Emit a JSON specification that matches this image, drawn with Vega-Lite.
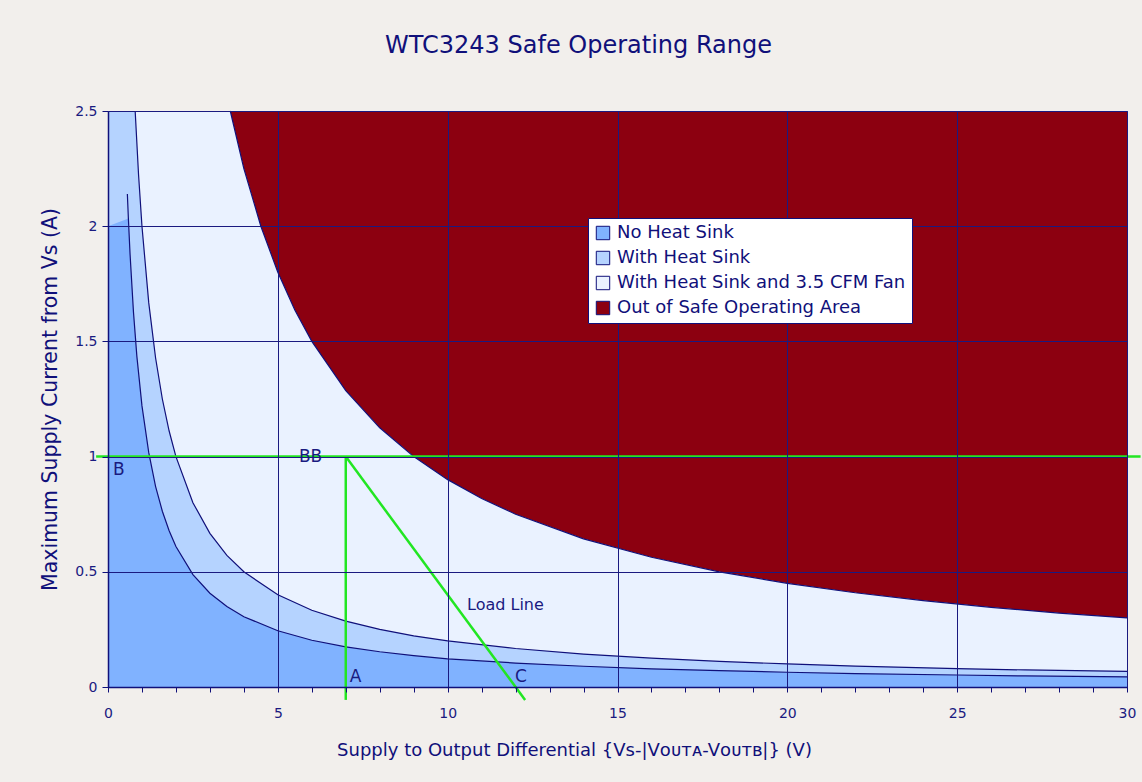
{
  "$schema": "https://vega.github.io/schema/vega-lite/v6.json",
  "width": 1019,
  "height": 576,
  "autosize": {"type": "none"},
  "padding": {"left": 108, "top": 111, "right": 15, "bottom": 95},
  "background": "#F2EFEC",
  "title": {"text": "WTC3243 Safe Operating Range", "fontSize": 24, "font": "DejaVu Sans", "fontWeight": "normal", "color": "#10107A", "anchor": "middle", "frame": "group", "dx": -39, "offset": 46},
  "config": {
    "view": {"stroke": "#1a1a80", "strokeWidth": 1},
    "font": "DejaVu Sans",
    "axis": {"labelFont": "DejaVu Sans", "titleFont": "DejaVu Sans", "labelColor": "#1a1a80", "titleColor": "#10107A", "domainColor": "#10107A", "domainWidth": 1.5, "tickColor": "#10107A", "gridColor": "#1a1a80", "gridWidth": 1, "labelFontSize": 14, "titleFontSize": 18, "titleFontWeight": "normal"}
  },
  "datasets": {
    "curves": [
      {"s": "No Heat Sink", "part": "area", "x": 0, "y": 2.0},
      {"s": "No Heat Sink", "part": "line", "x": 0.57, "y": 2.14},
      {"s": "No Heat Sink", "part": "both", "x": 0.6, "y": 2.033},
      {"s": "No Heat Sink", "part": "both", "x": 0.65, "y": 1.877},
      {"s": "No Heat Sink", "part": "both", "x": 0.75, "y": 1.627},
      {"s": "No Heat Sink", "part": "both", "x": 0.85, "y": 1.435},
      {"s": "No Heat Sink", "part": "both", "x": 1.0, "y": 1.22},
      {"s": "No Heat Sink", "part": "both", "x": 1.2, "y": 1.017},
      {"s": "No Heat Sink", "part": "both", "x": 1.4, "y": 0.871},
      {"s": "No Heat Sink", "part": "both", "x": 1.6, "y": 0.763},
      {"s": "No Heat Sink", "part": "both", "x": 1.8, "y": 0.678},
      {"s": "No Heat Sink", "part": "both", "x": 2.0, "y": 0.61},
      {"s": "No Heat Sink", "part": "both", "x": 2.5, "y": 0.488},
      {"s": "No Heat Sink", "part": "both", "x": 3.0, "y": 0.407},
      {"s": "No Heat Sink", "part": "both", "x": 3.5, "y": 0.349},
      {"s": "No Heat Sink", "part": "both", "x": 4.0, "y": 0.305},
      {"s": "No Heat Sink", "part": "both", "x": 5.0, "y": 0.244},
      {"s": "No Heat Sink", "part": "both", "x": 6.0, "y": 0.203},
      {"s": "No Heat Sink", "part": "both", "x": 7.0, "y": 0.174},
      {"s": "No Heat Sink", "part": "both", "x": 8.0, "y": 0.153},
      {"s": "No Heat Sink", "part": "both", "x": 9.0, "y": 0.136},
      {"s": "No Heat Sink", "part": "both", "x": 10.0, "y": 0.122},
      {"s": "No Heat Sink", "part": "both", "x": 12.0, "y": 0.104},
      {"s": "No Heat Sink", "part": "both", "x": 14.0, "y": 0.09},
      {"s": "No Heat Sink", "part": "both", "x": 16.0, "y": 0.079},
      {"s": "No Heat Sink", "part": "both", "x": 18.0, "y": 0.071},
      {"s": "No Heat Sink", "part": "both", "x": 20.0, "y": 0.064},
      {"s": "No Heat Sink", "part": "both", "x": 22.0, "y": 0.058},
      {"s": "No Heat Sink", "part": "both", "x": 25.0, "y": 0.052},
      {"s": "No Heat Sink", "part": "both", "x": 27.0, "y": 0.048},
      {"s": "No Heat Sink", "part": "both", "x": 30.0, "y": 0.044},
      {"s": "With Heat Sink", "part": "area", "x": 0, "y": 2.5},
      {"s": "With Heat Sink", "part": "both", "x": 0.8, "y": 2.5},
      {"s": "With Heat Sink", "part": "both", "x": 0.9, "y": 2.222},
      {"s": "With Heat Sink", "part": "both", "x": 1.0, "y": 2.0},
      {"s": "With Heat Sink", "part": "both", "x": 1.2, "y": 1.667},
      {"s": "With Heat Sink", "part": "both", "x": 1.4, "y": 1.429},
      {"s": "With Heat Sink", "part": "both", "x": 1.6, "y": 1.25},
      {"s": "With Heat Sink", "part": "both", "x": 1.8, "y": 1.111},
      {"s": "With Heat Sink", "part": "both", "x": 2.0, "y": 1.0},
      {"s": "With Heat Sink", "part": "both", "x": 2.5, "y": 0.8},
      {"s": "With Heat Sink", "part": "both", "x": 3.0, "y": 0.667},
      {"s": "With Heat Sink", "part": "both", "x": 3.5, "y": 0.571},
      {"s": "With Heat Sink", "part": "both", "x": 4.0, "y": 0.5},
      {"s": "With Heat Sink", "part": "both", "x": 5.0, "y": 0.4},
      {"s": "With Heat Sink", "part": "both", "x": 6.0, "y": 0.333},
      {"s": "With Heat Sink", "part": "both", "x": 7.0, "y": 0.286},
      {"s": "With Heat Sink", "part": "both", "x": 8.0, "y": 0.25},
      {"s": "With Heat Sink", "part": "both", "x": 9.0, "y": 0.222},
      {"s": "With Heat Sink", "part": "both", "x": 10.0, "y": 0.2},
      {"s": "With Heat Sink", "part": "both", "x": 12.0, "y": 0.167},
      {"s": "With Heat Sink", "part": "both", "x": 14.0, "y": 0.143},
      {"s": "With Heat Sink", "part": "both", "x": 16.0, "y": 0.125},
      {"s": "With Heat Sink", "part": "both", "x": 18.0, "y": 0.111},
      {"s": "With Heat Sink", "part": "both", "x": 20.0, "y": 0.1},
      {"s": "With Heat Sink", "part": "both", "x": 22.0, "y": 0.091},
      {"s": "With Heat Sink", "part": "both", "x": 25.0, "y": 0.08},
      {"s": "With Heat Sink", "part": "both", "x": 27.0, "y": 0.074},
      {"s": "With Heat Sink", "part": "both", "x": 30.0, "y": 0.068},
      {"s": "With Heat Sink and 3.5 CFM Fan", "part": "area", "x": 0, "y": 2.5},
      {"s": "With Heat Sink and 3.5 CFM Fan", "part": "both", "x": 3.6, "y": 2.5},
      {"s": "With Heat Sink and 3.5 CFM Fan", "part": "both", "x": 4.0, "y": 2.25},
      {"s": "With Heat Sink and 3.5 CFM Fan", "part": "both", "x": 4.5, "y": 2.0},
      {"s": "With Heat Sink and 3.5 CFM Fan", "part": "both", "x": 5.0, "y": 1.8},
      {"s": "With Heat Sink and 3.5 CFM Fan", "part": "both", "x": 5.5, "y": 1.636},
      {"s": "With Heat Sink and 3.5 CFM Fan", "part": "both", "x": 6.0, "y": 1.5},
      {"s": "With Heat Sink and 3.5 CFM Fan", "part": "both", "x": 7.0, "y": 1.286},
      {"s": "With Heat Sink and 3.5 CFM Fan", "part": "both", "x": 8.0, "y": 1.125},
      {"s": "With Heat Sink and 3.5 CFM Fan", "part": "both", "x": 9.0, "y": 1.0},
      {"s": "With Heat Sink and 3.5 CFM Fan", "part": "both", "x": 10.0, "y": 0.9},
      {"s": "With Heat Sink and 3.5 CFM Fan", "part": "both", "x": 11.0, "y": 0.818},
      {"s": "With Heat Sink and 3.5 CFM Fan", "part": "both", "x": 12.0, "y": 0.75},
      {"s": "With Heat Sink and 3.5 CFM Fan", "part": "both", "x": 14.0, "y": 0.643},
      {"s": "With Heat Sink and 3.5 CFM Fan", "part": "both", "x": 16.0, "y": 0.563},
      {"s": "With Heat Sink and 3.5 CFM Fan", "part": "both", "x": 18.0, "y": 0.5},
      {"s": "With Heat Sink and 3.5 CFM Fan", "part": "both", "x": 20.0, "y": 0.45},
      {"s": "With Heat Sink and 3.5 CFM Fan", "part": "both", "x": 22.0, "y": 0.409},
      {"s": "With Heat Sink and 3.5 CFM Fan", "part": "both", "x": 24.0, "y": 0.375},
      {"s": "With Heat Sink and 3.5 CFM Fan", "part": "both", "x": 26.0, "y": 0.346},
      {"s": "With Heat Sink and 3.5 CFM Fan", "part": "both", "x": 28.0, "y": 0.321},
      {"s": "With Heat Sink and 3.5 CFM Fan", "part": "both", "x": 30.0, "y": 0.3}
    ],
    "load": [
      {"seg": "h", "i": 0, "x": -0.35, "y": 1},
      {"seg": "h", "i": 1, "x": 30.4, "y": 1},
      {"seg": "v", "i": 0, "x": 7, "y": -0.056},
      {"seg": "v", "i": 1, "x": 7, "y": 1},
      {"seg": "d", "i": 0, "x": 7, "y": 1},
      {"seg": "d", "i": 1, "x": 12.28, "y": -0.056}
    ],
    "labels": [
      {"t": "B", "x": 0.15, "y": 0.94, "fs": 17},
      {"t": "BB", "x": 5.62, "y": 1.0, "fs": 17},
      {"t": "A", "x": 7.12, "y": 0.043, "fs": 17},
      {"t": "C", "x": 11.98, "y": 0.043, "fs": 17},
      {"t": "Load Line", "x": 10.57, "y": 0.356, "fs": 16}
    ]
  },
  "encoding": {
    "x": {"field": "x", "type": "quantitative", "scale": {"domain": [0, 30], "nice": false, "zero": false},
      "axis": {"title": "Supply to Output Differential {Vꜱ-|Vᴏᴜᴛᴀ-Vᴏᴜᴛʙ|} (V)", "values": [0,1,2,3,4,5,6,7,8,9,10,11,12,13,14,15,16,17,18,19,20,21,22,23,24,25,26,27,28,29,30],
        "labelExpr": "datum.value % 5 === 0 ? datum.label : ''", "gridOpacity": {"condition": {"test": "datum.value % 5 === 0", "value": 1}, "value": 0},
        "tickSize": 5, "labelPadding": 14, "titlePadding": 21, "titleX": 466, "titleAlign": "center", "labelFlush": false, "labelOverlap": false, "zindex": 1}},
    "y": {"field": "y", "type": "quantitative", "stack": null, "scale": {"domain": [0, 2.5], "nice": false, "zero": false},
      "axis": {"title": "Maximum Supply Current from Vꜱ (A)", "titleFontSize": 20.5, "values": [0, 0.5, 1, 1.5, 2, 2.5], "format": "~g", "tickSize": 6, "labelPadding": 5, "titlePadding": 14, "labelFlush": false, "zindex": 1}}
  },
  "layer": [
    {
      "data": {"name": "curves"},
      "transform": [{"filter": "datum.s === 'With Heat Sink and 3.5 CFM Fan' && datum.part !== 'line'"}],
      "mark": {"type": "area"},
      "encoding": {
        "y2": {"datum": 2.5},
        "fill": {"datum": "Out of Safe Operating Area", "type": "nominal", "title": null,
          "scale": {"domain": ["No Heat Sink", "With Heat Sink", "With Heat Sink and 3.5 CFM Fan", "Out of Safe Operating Area"], "range": ["#80B2FF", "#B5D3FF", "#EAF2FF", "#8C0010"]},
          "legend": {"orient": "none", "legendX": 480, "legendY": 107, "title": null, "fillColor": "#FFFFFF", "strokeColor": "#10107A", "padding": 6, "symbolType": "square", "symbolSize": 180, "symbolStrokeColor": "#10107A", "symbolStrokeWidth": 1, "symbolOpacity": 1, "labelFontSize": 18, "labelColor": "#10107A", "labelFont": "DejaVu Sans", "labelLimit": 500, "rowPadding": 7, "labelOffset": 5, "zindex": 2}}
      }
    },
    {
      "data": {"name": "curves"},
      "transform": [{"filter": "datum.s === 'With Heat Sink and 3.5 CFM Fan' && datum.part !== 'line'"}],
      "mark": {"type": "area"},
      "encoding": {"fill": {"field": "s", "type": "nominal", "title": null}}
    },
    {
      "data": {"name": "curves"},
      "transform": [{"filter": "datum.s === 'With Heat Sink' && datum.part !== 'line'"}],
      "mark": {"type": "area"},
      "encoding": {"fill": {"field": "s", "type": "nominal", "title": null}}
    },
    {
      "data": {"name": "curves"},
      "transform": [{"filter": "datum.s === 'No Heat Sink' && datum.part !== 'line'"}],
      "mark": {"type": "area"},
      "encoding": {"fill": {"field": "s", "type": "nominal", "title": null}}
    },
    {
      "data": {"name": "curves"},
      "transform": [{"filter": "datum.part !== 'area'"}],
      "mark": {"type": "line", "color": "#10107A", "strokeWidth": 1.2},
      "encoding": {"detail": {"field": "s"}}
    },
    {
      "data": {"name": "load"},
      "mark": {"type": "line", "color": "#22E622", "strokeWidth": 2.5},
      "encoding": {"detail": {"field": "seg"}, "order": {"field": "i"}}
    },
    {
      "data": {"name": "labels"},
      "mark": {"type": "text", "align": "left", "baseline": "middle", "color": "#1a1a80", "font": "DejaVu Sans"},
      "encoding": {"text": {"field": "t"}, "size": {"field": "fs", "type": "quantitative", "scale": null}}
    }
  ]
}
